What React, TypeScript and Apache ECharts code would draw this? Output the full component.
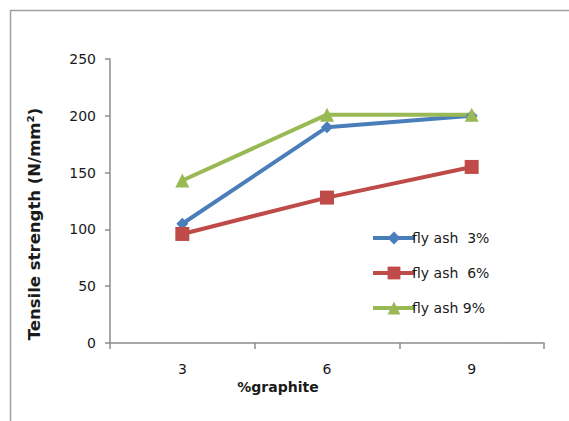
import React, { useEffect, useRef } from "react";
import * as echarts from "echarts";

const categories = ["3", "6", "9"];
const flyAsh3 = [105, 190, 200];
const flyAsh6 = [96, 128, 155];
const flyAsh9 = [143, 201, 201];
const seriesNames = ["fly ash  3%", "fly ash  6%", "fly ash 9%"];
const yTicks = { min: 0, max: 250, interval: 50 };

const FONT = "DejaVu Sans";

export default function App() {
  const ref = useRef<HTMLDivElement>(null);
  useEffect(() => {
    if (!ref.current) return;
    const chart = echarts.init(ref.current, null, { renderer: "svg" });
    const axisColor = "#8c8c8c";
    const mk = (name: string, data: number[], color: string, symbol: string, size: number) => ({
      name,
      type: "line",
      data,
      symbol,
      symbolSize: size,
      showAllSymbol: true,
      lineStyle: { color, width: 4 },
      itemStyle: { color },
    });
    chart.setOption({
      animation: false,
      backgroundColor: "#ffffff",
      grid: { left: 110, right: 25, top: 59, bottom: 78 },
      xAxis: {
        type: "category",
        data: categories,
        boundaryGap: true,
        axisLine: { lineStyle: { color: axisColor, width: 1.5 } },
        axisTick: { show: true, length: 6, lineStyle: { color: axisColor, width: 1.5 } },
        axisLabel: { color: "#1a1a1a", fontFamily: FONT, fontSize: 14, margin: 19 },
        splitLine: { show: false },
      },
      yAxis: {
        type: "value",
        min: yTicks.min,
        max: yTicks.max,
        interval: yTicks.interval,
        axisLine: { show: true, lineStyle: { color: axisColor, width: 1.5 } },
        axisTick: { show: true, length: 5, inside: false, lineStyle: { color: axisColor, width: 1.5 } },
        axisLabel: { color: "#1a1a1a", fontFamily: FONT, fontSize: 14, margin: 14 },
        splitLine: { show: false },
      },
      legend: {
        orient: "vertical",
        left: 366,
        top: 226,
        itemWidth: 42,
        itemHeight: 16,
        itemGap: 21,
        lineStyle: { width: 4 },
        textStyle: { color: "#1a1a1a", fontFamily: FONT, fontSize: 14, padding: [0, 0, 0, -8] },
        data: seriesNames,
      },
      series: [
        mk(seriesNames[0], flyAsh3, "#4a7ebb", "diamond", 12),
        mk(seriesNames[1], flyAsh6, "#be4b48", "rect", 14),
        mk(seriesNames[2], flyAsh9, "#98b954", "triangle", 14),
      ],
      graphic: [
        {
          type: "rect",
          shape: { x: 10.5, y: 10.5, width: 700, height: 600 },
          style: { fill: "none", stroke: "#a0a0a0", lineWidth: 1.5 },
          silent: true,
        },
        {
          type: "text",
          x: 34,
          y: 224,
          rotation: Math.PI / 2,
          style: {
            text: "Tensile strength (N/mm²)",
            font: `bold 16.5px "${FONT}"`,
            fill: "#1a1a1a",
            textAlign: "center",
            textVerticalAlign: "middle",
          },
        },
        {
          type: "text",
          x: 278,
          y: 387,
          style: {
            text: "%graphite",
            font: `bold 14px "${FONT}"`,
            fill: "#1a1a1a",
            textAlign: "center",
            textVerticalAlign: "middle",
          },
        },
      ],
    });
    return () => chart.dispose();
  }, []);
  return (
    <div
      ref={ref}
      style={{ position: "fixed", left: 0, top: 0, width: 569, height: 421 }}
    />
  );
}
